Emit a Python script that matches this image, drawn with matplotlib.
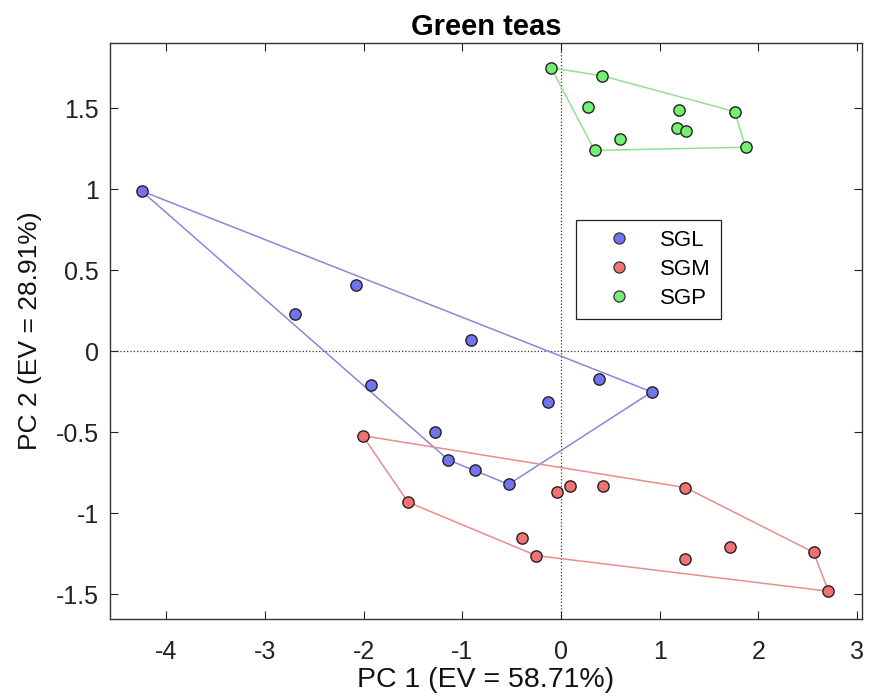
import numpy as np
import matplotlib.pyplot as plt

plt.rcParams['font.family'] = ['Liberation Sans', 'DejaVu Sans']

# PCA scores
sgl_x = [-4.25, -2.70, -2.08, -1.93, -0.91, -1.28, -1.14, -0.87, -0.53, -0.13, 0.39, 0.92]
sgl_y = [0.99, 0.23, 0.41, -0.21, 0.07, -0.50, -0.67, -0.73, -0.82, -0.31, -0.17, -0.25]

sgm_x = [-2.01, -1.55, -0.39, -0.25, -0.04, 0.09, 0.43, 1.26, 1.26, 1.71, 2.56, 2.71]
sgm_y = [-0.52, -0.93, -1.15, -1.26, -0.87, -0.83, -0.83, -0.84, -1.28, -1.21, -1.24, -1.48]

sgp_x = [-0.10, 0.42, 0.27, 1.20, 1.76, 1.18, 1.27, 0.60, 0.34, 1.87]
sgp_y = [1.75, 1.70, 1.51, 1.49, 1.48, 1.38, 1.36, 1.31, 1.24, 1.26]

groups = ['SGL', 'SGM', 'SGP']
fill_colors = ['#7373F2', '#F07272', '#72F072']
line_colors = ['#8888D8', '#E88C8C', '#90E290']

xticks = [-4, -3, -2, -1, 0, 1, 2, 3]
yticks = [-1.5, -1, -0.5, 0, 0.5, 1, 1.5]


def convex_hull(xs, ys):
    pts = sorted(set(zip(xs, ys)))

    def cross(o, a, b):
        return (a[0] - o[0]) * (b[1] - o[1]) - (a[1] - o[1]) * (b[0] - o[0])

    lower = []
    for p in pts:
        while len(lower) >= 2 and cross(lower[-2], lower[-1], p) <= 0:
            lower.pop()
        lower.append(p)
    upper = []
    for p in reversed(pts):
        while len(upper) >= 2 and cross(upper[-2], upper[-1], p) <= 0:
            upper.pop()
        upper.append(p)
    hull = lower[:-1] + upper[:-1]
    hull.append(hull[0])
    return np.array(hull)


fig = plt.figure(figsize=(8.7, 7), dpi=100)
ax = fig.add_axes([0.1264, 0.1153, 0.8644, 0.8237])

ax.axhline(0, color='#333333', linestyle=':', linewidth=0.9, zorder=1)
ax.axvline(0, color='#333333', linestyle=':', linewidth=0.9, zorder=1)

data = [(sgl_x, sgl_y), (sgm_x, sgm_y), (sgp_x, sgp_y)]
for (xs, ys), lc in zip(data, line_colors):
    h = convex_hull(xs, ys)
    ax.plot(h[:, 0], h[:, 1], color=lc, linewidth=1.1, zorder=2)

handles = []
for (xs, ys), fc, name in zip(data, fill_colors, groups):
    ax.scatter(xs, ys, s=66, color=fc, edgecolors='#222222', linewidths=1.0, zorder=3)
    handles.append(plt.Line2D([], [], linestyle='none', marker='o', markersize=8,
                              markerfacecolor=fc, markeredgecolor='#333333',
                              markeredgewidth=0.9, label=name))

ax.set_xlim(-4.57, 3.05)
ax.set_ylim(-1.653, 1.905)
ax.set_xticks(xticks)
ax.set_yticks(yticks)
ax.set_xticklabels([f'{v:g}' for v in xticks])
ax.set_yticklabels([f'{v:g}' for v in yticks])
ax.tick_params(direction='in', top=True, right=True, length=6, width=0.8,
               labelsize=18, colors='#222222')
ax.tick_params(axis='x', pad=15)
ax.tick_params(axis='y', pad=8)
for sp in ax.spines.values():
    sp.set_linewidth(1.0)
    sp.set_color('#333333')

ax.set_xlabel('PC 1 (EV = 58.71%)', fontsize=20.5, labelpad=2, color='#111111')
ax.set_ylabel('PC 2 (EV = 28.91%)', fontsize=19, labelpad=10, color='#111111')
ax.set_title('Green teas', fontsize=21, fontweight='bold', pad=5.5)

leg = ax.legend(handles=handles, loc='upper left', bbox_to_anchor=(0.62, 0.693),
                borderaxespad=0, fancybox=False, edgecolor='#222222', fontsize=16,
                handletextpad=0.36, borderpad=0.45, labelspacing=0.36,
                handlelength=2.98, framealpha=1)
leg.get_frame().set_linewidth(0.9)

fig.savefig('out.png', dpi=100)
